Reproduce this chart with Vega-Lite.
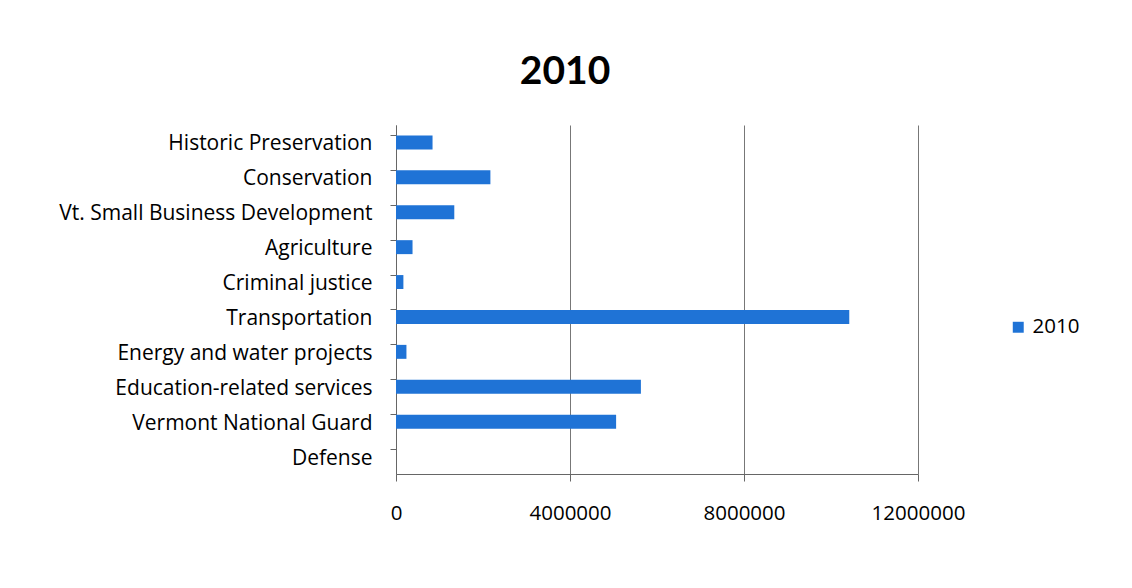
{
  "$schema": "https://vega.github.io/schema/vega-lite/v6.json",
  "width": 522,
  "height": 349,
  "autosize": {"type": "none"},
  "padding": {"left": 396, "top": 125, "right": 214, "bottom": 114},
  "background": "white",
  "title": {"text": "2010", "fontSize": 39, "font": "Lato", "fontWeight": "bold", "color": "#000000", "anchor": "middle", "dx": -92, "offset": 33},
  "data": {"values": [
    {"category": "Historic Preservation", "value": 840000, "series": "2010"},
    {"category": "Conservation", "value": 2170000, "series": "2010"},
    {"category": "Vt. Small Business Development", "value": 1340000, "series": "2010"},
    {"category": "Agriculture", "value": 380000, "series": "2010"},
    {"category": "Criminal justice", "value": 170000, "series": "2010"},
    {"category": "Transportation", "value": 10420000, "series": "2010"},
    {"category": "Energy and water projects", "value": 240000, "series": "2010"},
    {"category": "Education-related services", "value": 5630000, "series": "2010"},
    {"category": "Vermont National Guard", "value": 5060000, "series": "2010"},
    {"category": "Defense", "value": 0, "series": "2010"}
  ]},
  "mark": {"type": "bar"},
  "encoding": {
    "y": {
      "field": "category", "type": "nominal", "sort": null,
      "scale": {"paddingInner": 0.6, "paddingOuter": 0.3},
      "axis": {"title": null, "bandPosition": 0, "tickSize": 6, "labelPadding": 18, "labelOffset": 2, "labelFontSize": 21, "labelFont": "Open Sans", "labelColor": "#000000", "domainColor": "#666666", "tickColor": "#666666", "labelLimit": 400}
    },
    "x": {
      "field": "value", "type": "quantitative",
      "scale": {"domain": [0, 12000000], "nice": false},
      "axis": {"title": null, "values": [0, 4000000, 8000000, 12000000], "format": "d", "grid": true, "gridColor": "#777777", "tickSize": 7, "labelPadding": 22, "labelFontSize": 20.5, "labelFont": "Open Sans", "labelColor": "#000000", "domainColor": "#666666", "tickColor": "#666666", "labelFlush": false}
    },
    "color": {
      "field": "series", "type": "nominal",
      "scale": {"range": ["#1f73d6"]},
      "legend": {"title": null, "orient": "none", "legendX": 612, "legendY": 192, "symbolType": "square", "symbolSize": 120, "labelFontSize": 20.5, "labelFont": "Open Sans", "labelColor": "#000000", "symbolStrokeWidth": 0}
    }
  },
  "config": {"view": {"stroke": null}}
}
